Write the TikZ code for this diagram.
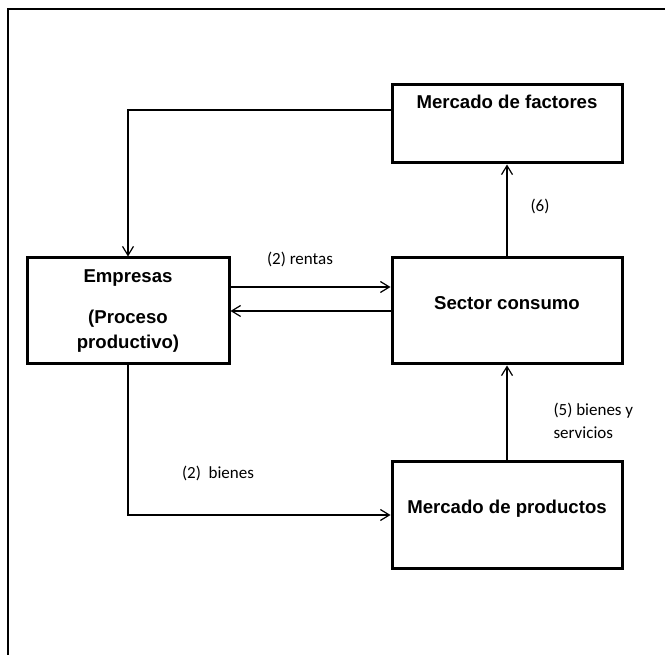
\documentclass[tikz,border=0pt]{standalone}
\usepackage{fontspec}
\setmainfont{Liberation Sans}
\newfontfamily\calibri{Carlito}
\usetikzlibrary{arrows.meta}
\tikzset{caja/.style={draw,line width=3pt,inner sep=0pt,align=center,
    font=\bfseries\fontsize{18.6}{25}\selectfont},
  ancha/.style={minimum width=230pt,minimum height=106pt},
  flecha/.style={line width=1.2pt,-{Straight Barb[length=9pt,width=11pt]}},
  etiq/.style={font=\calibri\fontsize{17}{22.5}\selectfont}}
\begin{document}
\begin{tikzpicture}[x=1pt,y=-1pt]
    \useasboundingbox (0,0) rectangle (665,655);
    \draw[line width=1.5pt] (8,660) -- (8,9) -- (670,9);
    % cajas
    \node[caja,minimum width=230pt,minimum height=78pt,text height=13.4pt,text depth=44pt] (fac) at (507,124) {Mercado de factores};
    \node[caja,minimum width=202pt,minimum height=106pt] (emp) at (128,311) {Empresas\\[16pt](Proceso\\productivo)};
    \node[caja,ancha,text height=13.4pt,text depth=16pt] (con) at (507,311) {Sector consumo};
    \node[caja,ancha,text height=13.4pt,text depth=16pt] (pro) at (507,515) {Mercado de productos};
    % flechas
    \draw[flecha] ([yshift=14pt]fac.west) -| (emp.north);
    \draw[flecha] ([yshift=24pt]emp.east) -- ([yshift=24pt]con.west);
    \draw[flecha] (con.west) -- (emp.east);
    \draw[flecha] (con.north) -- (fac.south);
    \draw[flecha] (emp.south) |- (pro.west);
    \draw[flecha] (pro.north) -- (con.south);
    % etiquetas
    \node[etiq] (rentas) at (300,259) {(2) rentas};
    \node[etiq] (seis) at (540,206) {(6)};
    \node[etiq] (bienes) at (218,473) {(2)~ bienes};
    \node[etiq,align=left,anchor=west] (serv) at (550,421) {(5) bienes y\\servicios};
\end{tikzpicture}
\end{document}
